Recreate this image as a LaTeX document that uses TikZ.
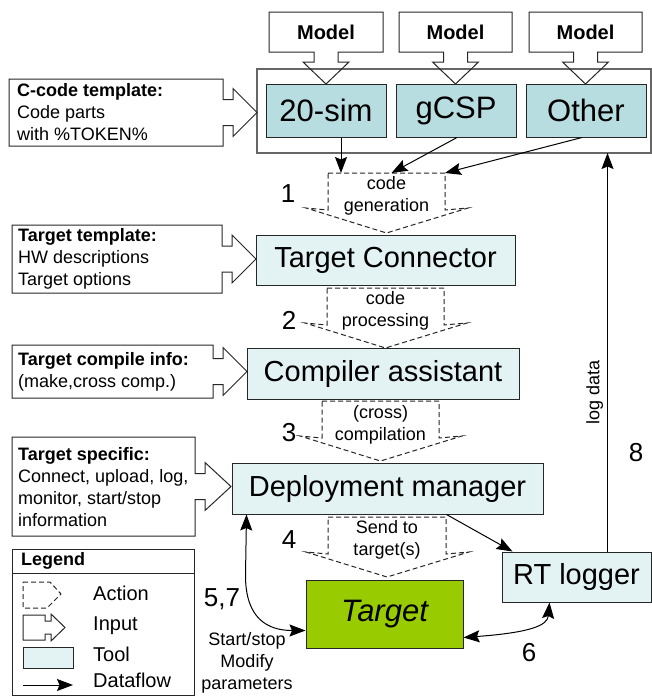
\documentclass[tikz,border=0pt]{standalone}
\usepackage{fontspec}
\setmainfont{Liberation Sans}
\usetikzlibrary{arrows.meta,calc}
\definecolor{toolA}{HTML}{B8DDE0}
\definecolor{toolB}{HTML}{E3F2F3}
\definecolor{tgreen}{HTML}{99CC00}
\newcommand{\fsz}[2]{\fontsize{#1}{#2}\selectfont}
% right-pointing input callout contour around a node
\newcommand{\rcall}[2]{\draw[cont] (#1.north west) -- (#1.north east) -- ($(#1.east)+(0,-13)$) -- ++(10,0) -- ++(0,-11) -- ($(#1.east)+(#2,0)$) -- ($(#1.east)+(10,24)$) -- ++(0,-11) -- ($(#1.east)+(0,13)$) -- (#1.south east) -- (#1.south west) -- cycle;}
% down-pointing input callout contour around a node
\newcommand{\dcall}[1]{\draw[cont] (#1.south west) -- (#1.north west) -- (#1.north east) -- (#1.south east) -- ($(#1.south)+(12,0)$) -- ++(0,10) -- ++(11,0) -- ($(#1.south)+(0,32)$) -- ($(#1.south)+(-23,10)$) -- ++(11,0) -- ($(#1.south)+(-12,0)$) -- cycle;}
% dashed action shape
\newcommand{\actshape}[1]{\draw[actline] (#1.north west) -- (#1.north east) -- (#1.south east) -- ++(23,-2) -- ($(#1.south)+(0,23)$) -- ($(#1.south west)+(-22,-2)$) -- (#1.south west) -- cycle;}
\begin{document}
\begin{tikzpicture}[x=1pt,y=-1pt,
  tool/.style={draw=black!85, line width=1pt, inner sep=0pt, font=\fsz{29}{33}},
  toolA/.style={tool, fill=toolA, minimum width=120pt, minimum height=53pt, font=\fsz{31}{35}},
  toolB/.style={tool, fill=toolB},
  cont/.style={draw=black!85, line width=1pt, line join=miter},
  actline/.style={draw=black!85, line width=1pt, dash pattern=on 5pt off 3pt},
  shp/.style={inner sep=0pt, outer sep=0pt},
  flow/.style={draw=black, line width=1pt, -{Stealth[length=16pt,width=12pt,inset=2.5pt]}},
  biflow/.style={draw=black, line width=1pt, {Stealth[length=16pt,width=12pt,inset=2.5pt]}-{Stealth[length=16pt,width=12pt,inset=2.5pt]}},
  num/.style={font=\fsz{26}{30}, inner sep=0pt},
  txt/.style={font=\fsz{18}{22}, align=left, inner sep=0pt},
  acttxt/.style={font=\fsz{18}{22}, align=center, inner sep=0pt},
  legtxt/.style={font=\fsz{20}{24}, inner sep=0pt, anchor=west},
]
\useasboundingbox (0,0) rectangle (652,696);

% outer tool group box
\node[draw=black!60, line width=1.2pt, shp, minimum width=394pt, minimum height=84pt] (outer) at (454,111) {};

% model callouts
\node[shp, minimum width=114pt, minimum height=40pt, font=\bfseries\fsz{20}{24}] (m1) at (326,32) {Model};
\node[shp, minimum width=113pt, minimum height=40pt, font=\bfseries\fsz{20}{24}] (m2) at (455.5,32) {Model};
\node[shp, minimum width=113pt, minimum height=40pt, font=\bfseries\fsz{20}{24}] (m3) at (585.5,32) {Model};
\dcall{m1}\dcall{m2}\dcall{m3}

% top tools
\node[toolA] (sim) at (326,110.5) {20-sim};
\node[toolA] (gcsp) at (456,110.5) {gCSP};
\node[toolA] (other) at (586,110.5) {Other};

% lower tools
\node[toolB, minimum width=259pt, minimum height=50pt] (tc) at (385.5,260) {Target Connector};
\node[toolB, minimum width=272pt, minimum height=51pt] (ca) at (383,373.5) {Compiler assistant};
\node[toolB, minimum width=311pt, minimum height=51pt] (dm) at (387.5,488.5) {Deployment manager};
\node[toolB, minimum width=149pt, minimum height=50pt] (rt) at (576.5,577) {RT logger};
\node[tool, fill=tgreen, minimum width=157pt, minimum height=68pt, font=\itshape\fsz{31}{35}] (tg) at (384.5,614) {Target};

% input callouts (left)
\node[shp, minimum width=214pt, minimum height=67pt] (cc) at (116,112.5) {};
\rcall{cc}{34}
\node[txt, anchor=west] (cct) at ($(cc.west)+(8,0)$) {\textbf{C-code template:}\\Code parts\\with \%TOKEN\%};

\node[shp, minimum width=210pt, minimum height=68pt] (tt) at (117,259) {};
\rcall{tt}{34}
\node[txt, anchor=west] (ttt) at ($(tt.west)+(6,0)$) {\textbf{Target template:}\\HW descriptions\\Target options};

\node[shp, minimum width=201pt, minimum height=53pt] (tci) at (112.5,371.5) {};
\rcall{tci}{34}
\node[txt, anchor=west] (tcit) at ($(tci.west)+(6,0)$) {\textbf{Target compile info:}\\(make,cross comp.)};

\node[shp, minimum width=183pt, minimum height=99pt] (ts) at (103.5,486.5) {};
\rcall{ts}{36}
\node[txt, anchor=west] (tst) at ($(ts.west)+(6,1)$) {\textbf{Target specific:}\\Connect, upload, log,\\monitor, start/stop\\information};

% actions
\node[shp, minimum width=117pt, minimum height=37pt] (act1) at (386.5,191.5) {};
\actshape{act1}
\node[acttxt] (act1t) at ($(act1.center)+(0,4)$) {code\\generation};
\node[shp, minimum width=117pt, minimum height=37pt] (act2) at (385.5,306.5) {};
\actshape{act2}
\node[acttxt] (act2t) at ($(act2.center)+(0,4.5)$) {code\\processing};
\node[shp, minimum width=117pt, minimum height=37pt] (act3) at (380.5,419.5) {};
\actshape{act3}
\node[acttxt] (act3t) at ($(act3.center)+(0,5)$) {(cross)\\compilation};
\node[shp, minimum width=118pt, minimum height=37pt] (act4) at (387,535.5) {};
\actshape{act4}
\node[acttxt] (act4t) at ($(act4.center)+(0,4.5)$) {Send to\\target(s)};

% numbers
\node[num] (n1) at (288,194) {1};
\node[num] (n2) at (289,320) {2};
\node[num] (n3) at (289,433) {3};
\node[num] (n4) at (289,540) {4};
\node[num] (n57) at (222,599) {5,7};
\node[num] (n6) at (529,653) {6};
\node[num] (n8) at (636,453) {8};

% dataflow from tools to code generation
\coordinate (s1) at ($(sim.south)+(15,0)$);
\draw[flow] (s1) -- (s1 |- act1.north);
\draw[flow] ($(gcsp.south)+(1,0)$) -- ($(act1.north)+(5,0)$);
\draw[flow] ($(other.south)+(-4,0)$) -- (act1.north east);

% log data
\coordinate (ld) at ($(rt.north west)+(106,0)$);
\draw[flow] (ld) -- (ld |- outer.south) node[pos=0.4, rotate=90, anchor=south, inner sep=4pt, font=\fsz{18}{22}] (ldt) {log data};

% deployment manager to RT logger
\draw[flow] ($(dm.south west)+(215,0)$) -- ($(rt.north west)+(11,0)$);

% deployment manager <-> target
\coordinate (dmb) at ($(dm.south west)+(15,0)$);
\coordinate (tgl) at ($(tg.south west)+(0,-18)$);
\draw[biflow] (dmb) -- ++(-1,61) .. controls +(0,43) and +(-38,0) .. (tgl);
\node[acttxt] (sst) at (247,663) {\fsz{18}{23}Start/stop\\Modify\\parameters};

% target <-> RT logger
\coordinate (tgr) at ($(tg.south east)+(0,-11)$);
\coordinate (rtb) at ($(rt.south west)+(48,0)$);
\draw[biflow] (tgr) .. controls +(67,-5) and +(-2,23) .. (rtb);

% legend
\node[draw=black!85, line width=1pt, shp, minimum width=182pt, minimum height=146pt, anchor=north west] (leg) at (12,549) {};
\coordinate (lh) at ($(leg.north west)+(0,24)$);
\draw[draw=black!85, line width=1pt] (lh) -- (lh -| leg.east);
\node[inner sep=0pt, anchor=west, font=\bfseries\fsz{18}{22}] (legt) at (21,561) {Legend};
\draw[actline] (23,582) -- (50,582) -- (61,594) -- (47,608) -- (23,608) -- cycle;
\node[legtxt] (la) at (93,593) {Action};
\draw[cont] (23,615) -- (45,615) -- (45,621) -- (51,621) -- (51,614) -- (65,627.5) -- (51,641) -- (51,634) -- (45,634) -- (45,640) -- (23,640) -- cycle;
\node[legtxt] (li) at (93,626) {Input};
\node[tool, fill=toolB, minimum width=50pt, minimum height=21pt, anchor=north west] (ltool) at (23,647) {};
\node[legtxt] (lt) at (93,654) {Tool};
\coordinate (lf1) at (23,685);
\coordinate (lf2) at (73,685);
\draw[flow] (lf1) -- (lf2);
\node[legtxt] (ld2) at (93,680) {Dataflow};
\end{tikzpicture}
\end{document}
